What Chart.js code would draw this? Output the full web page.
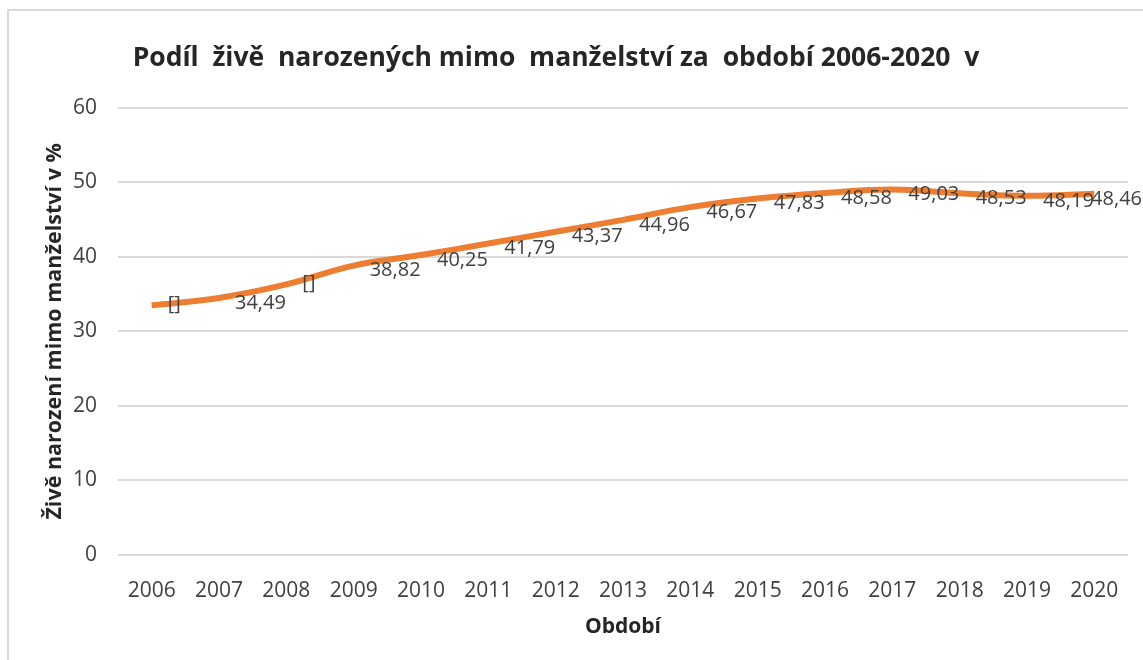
<!DOCTYPE html>
<html>
<head>
<meta charset="utf-8">
<script src="https://cdn.jsdelivr.net/npm/chart.js@4"></script>
<style>
  body { margin: 0; background: #fff; overflow: hidden; }
  #wrap { position: relative; width: 1143px; height: 660px; }
  #ramecek { position: absolute; left: 7px; top: 9px; width: 1300px; height: 800px;
             border-left: 2px solid #d9d9d9; border-top: 2px solid #d9d9d9; }
  canvas { position: absolute; left: 0; top: 0; }
</style>
</head>
<body>
<div id="wrap">
  <div id="ramecek"></div>
  <canvas id="GraficaPodil" width="1143" height="660"></canvas>
</div>
<script>
var Roky = ['2006','2007','2008','2009','2010','2011','2012','2013','2014','2015','2016','2017','2018','2019','2020'];
var Podil = [33.5, 34.49, 36.3, 38.82, 40.25, 41.79, 43.37, 44.96, 46.67, 47.83, 48.58, 49.03, 48.53, 48.19, 48.46];
var Popisky = ['[]','34,49','[]','38,82','40,25','41,79','43,37','44,96','46,67','47,83','48,58','49,03','48,53','48,19','48,46'];
var OsaY = [0, 10, 20, 30, 40, 50, 60];

// popisky dat vpravo od bodu
var PopiskyPlugin = {
    id: 'popisky',
    afterLayout: function (chart) {
        // nadpis je v originale trochu vlevo
        chart.titleBlock.left -= 36;
    },
    afterDatasetsDraw: function (chart) {
        var ctx = chart.ctx;
        var meta = chart.getDatasetMeta(0);
        ctx.save();
        ctx.font = '20px "Open Sans"';
        ctx.fillStyle = '#404040';
        ctx.textBaseline = 'middle';
        ctx.textAlign = 'left';
        meta.data.forEach(function (pt, i) {
            var txt = Popisky[i];
            var w = ctx.measureText(txt).width;
            var x = Math.min(pt.x + 16, chart.width - 1 - w);
            var dy = txt == '[]' ? -1 : 5;
            ctx.fillText(txt, x, pt.y + dy);
        });
        ctx.restore();
    }
};

var ctx = document.getElementById('GraficaPodil');
var graf = new Chart(ctx, {
    type: 'line',
    data: {
        labels: Roky,
        datasets: [{
            label: 'Podíl',
            data: Podil,
            borderColor: '#ED7D31',
            backgroundColor: '#ED7D31',
            borderWidth: 6,
            borderCapStyle: 'butt',
            pointRadius: 0,
            tension: 0.4,
            fill: false
        }]
    },
    options: {
        responsive: false,
        animation: false,
        layout: { padding: { left: 20, right: 15, top: 0, bottom: 0 } },
        plugins: {
            legend: { display: false },
            tooltip: { enabled: false },
            title: {
                display: true,
                text: 'Podíl  živě  narozených mimo  manželství za  období 2006-2020  v',
                color: '#262626',
                font: { family: 'Open Sans', size: 26.5, weight: 'bold' },
                padding: { top: 43, bottom: 33 }
            }
        },
        scales: {
            x: {
                offset: true,
                afterFit: function (axis) { axis.height = 105; },
                grid: { display: false, drawTicks: false },
                border: { display: false },
                ticks: { color: '#404040', font: { family: 'Open Sans', size: 21 }, padding: 23, maxRotation: 0 },
                title: {
                    display: true,
                    text: 'Období',
                    color: '#262626',
                    font: { family: 'Open Sans', size: 21, weight: 'bold' },
                    padding: { top: 8, bottom: 20 }
                }
            },
            y: {
                min: 0,
                max: 60,
                afterFit: function (axis) { axis.width = 98; },
                afterBuildTicks: function (axis) {
                    axis.ticks = OsaY.map(function (v) { return { value: v }; });
                },
                grid: { color: '#d9d9d9', lineWidth: 2, drawTicks: false },
                border: { display: false },
                ticks: { color: '#404040', font: { family: 'Open Sans', size: 21 }, padding: 21 },
                title: {
                    display: true,
                    text: 'Živě narození mimo manželství v %',
                    color: '#262626',
                    font: { family: 'Open Sans', size: 21.5, weight: 'bold' },
                    padding: { top: 22, bottom: 6 }
                }
            }
        }
    },
    plugins: [PopiskyPlugin]
});
</script>
</body>
</html>
